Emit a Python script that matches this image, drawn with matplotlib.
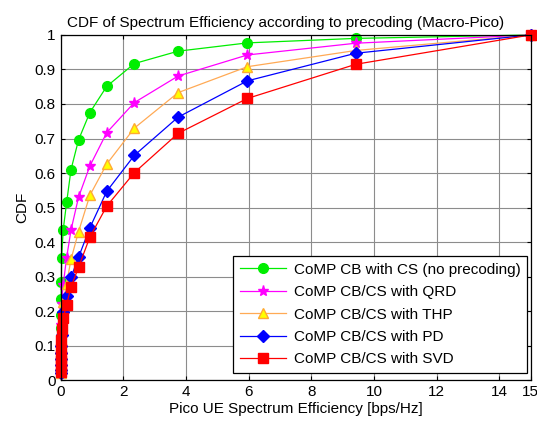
import matplotlib
matplotlib.use("Agg")
import matplotlib.pyplot as plt
from matplotlib.ticker import FormatStrFormatter

plt.rcParams['font.family'] = ['Liberation Sans', 'DejaVu Sans']

# shared spectrum efficiency sample points [bps/Hz]
se = [0, 0.002, 0.004, 0.007, 0.012, 0.02, 0.03, 0.08, 0.19, 0.33,
      0.57, 0.93, 1.47, 2.35, 3.75, 5.96, 9.42, 15]

cdf_cs  = [0.03, 0.1, 0.15, 0.19, 0.235, 0.283, 0.355, 0.435, 0.515, 0.61,
           0.696, 0.775, 0.851, 0.917, 0.953, 0.977, 0.99, 1.0]
cdf_qrd = [0.02, 0.04, 0.06, 0.09, 0.12, 0.16, 0.22, 0.277, 0.355, 0.435,
           0.53, 0.62, 0.717, 0.804, 0.881, 0.942, 0.976, 1.0]
cdf_thp = [0.02, 0.035, 0.05, 0.07, 0.09, 0.12, 0.16, 0.225, 0.28, 0.35,
           0.43, 0.535, 0.626, 0.73, 0.833, 0.908, 0.955, 1.0]
cdf_pd  = [0.02, 0.03, 0.045, 0.06, 0.08, 0.1, 0.13, 0.198, 0.245, 0.298,
           0.356, 0.441, 0.547, 0.651, 0.762, 0.867, 0.947, 1.0]
cdf_svd = [0.025, 0.04, 0.055, 0.07, 0.09, 0.115, 0.147, 0.179, 0.219, 0.27,
           0.327, 0.414, 0.504, 0.601, 0.715, 0.816, 0.915, 1.0]

labels = ['CoMP CB with CS (no precoding)', 'CoMP CB/CS with QRD',
          'CoMP CB/CS with THP', 'CoMP CB/CS with PD', 'CoMP CB/CS with SVD']

fig = plt.figure(figsize=(5.37, 4.21), dpi=100)
ax = fig.add_axes([0.113, 0.097, 0.875, 0.82])

ax.plot(se, cdf_cs, '-o', color='#00ee00', mfc='#00ee00', mec='#00ee00', ms=7, lw=0.9,
        label=labels[0], clip_on=False)
ax.plot(se, cdf_qrd, '-*', color='#ff00ff', mfc='#ff00ff', mec='#ff00ff', ms=8, lw=0.9,
        label=labels[1], clip_on=False)
ax.plot(se, cdf_thp, '-^', color='#ffaa55', mfc='#ffff00', mec='#ffaa33', ms=7.5, lw=0.9,
        label=labels[2], clip_on=False)
ax.plot(se, cdf_pd, '-D', color='#0000ff', mfc='#0000ff', mec='#0000ff', ms=6, lw=0.9,
        label=labels[3], clip_on=False)
ax.plot(se, cdf_svd, '-s', color='#ff0000', mfc='#ff0000', mec='#ff0000', ms=7, lw=0.9,
        label=labels[4], clip_on=False)

ax.set_xlim(0, 15)
ax.set_ylim(0, 1)
ax.set_xticks([0, 2, 4, 6, 8, 10, 12, 14, 15])
ax.set_yticks([i / 10 for i in range(11)])
ax.yaxis.set_major_formatter(FormatStrFormatter('%g'))
ax.tick_params(direction='in', top=True, right=True, length=3, labelsize=11)
ax.grid(True, color='#8c8c8c', lw=0.8)
ax.set_axisbelow(True)
for s in ax.spines.values():
    s.set_linewidth(0.9)

ax.set_title('CDF of Spectrum Efficiency according to precoding (Macro-Pico)',
             fontsize=11, x=0.479, pad=6)
ax.set_xlabel('Pico UE Spectrum Efficiency [bps/Hz]', fontsize=11, labelpad=2)
ax.set_ylabel('CDF', fontsize=11, labelpad=4)

leg = ax.legend(loc='lower right', bbox_to_anchor=(0.993, 0.02), borderaxespad=0,
                fontsize=11, handlelength=3.0, labelspacing=0.55, fancybox=False,
                framealpha=1, edgecolor='black', borderpad=0.45, handletextpad=0.5)
leg.get_frame().set_linewidth(0.9)
leg.set_zorder(5)

fig.savefig('out.png', dpi=100)
